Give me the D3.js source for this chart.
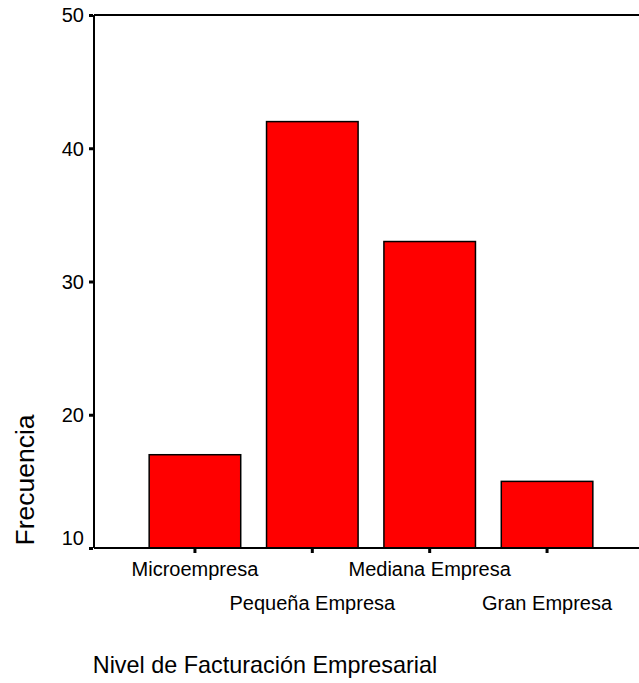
<!DOCTYPE html>
<html><head><meta charset="utf-8">
<script src="https://cdn.jsdelivr.net/npm/d3@7"></script>
<style>body{margin:0;background:#fff}svg{display:block}text{font-family:Arial,"Liberation Sans",sans-serif;fill:#000}</style>
</head><body>
<script>
const categories = ["Microempresa","Pequeña Empresa","Mediana Empresa","Gran Empresa"];
const values = [17, 42, 33, 15];
const yTicks = [10, 20, 30, 40, 50];
const yTitle = "Frecuencia";
const xTitle = "Nivel de Facturación Empresarial";

const W = 639, H = 683;
const plotL = 94, plotR = 648, plotT = 15, plotB = 548;
const svg = d3.select("body").append("svg").attr("width", W).attr("height", H);

const x = d3.scaleBand().domain(categories).range([plotL, plotR]).paddingInner(0.22).paddingOuter(0.47);
const y = d3.scaleLinear().domain([10, 50]).range([plotB, plotT]);

// bars
svg.append("g").selectAll("rect").data(categories).join("rect")
  .attr("x", d => x(d)).attr("width", x.bandwidth())
  .attr("y", (d,i) => y(values[i])).attr("height", (d,i) => y(10) - y(values[i]))
  .attr("fill", "#ff0000").attr("stroke", "#000").attr("stroke-width", 1.5);

// frame lines
svg.append("line").attr("x1", plotL).attr("x2", W + 10).attr("y1", plotT).attr("y2", plotT).attr("stroke", "#000").attr("stroke-width", 2);
svg.append("line").attr("x1", plotL).attr("x2", W + 10).attr("y1", plotB).attr("y2", plotB).attr("stroke", "#000").attr("stroke-width", 2);
svg.append("line").attr("x1", plotL).attr("x2", plotL).attr("y1", plotT).attr("y2", plotB).attr("stroke", "#000").attr("stroke-width", 2);

// y axis ticks via d3 axis
const yAxis = d3.axisLeft(y).tickValues(yTicks).tickSize(4).tickPadding(5).tickFormat(d3.format("d"));
const gy = svg.append("g").attr("transform", `translate(${plotL - 1},0)`).call(yAxis);
gy.select(".domain").remove();
gy.selectAll(".tick line").attr("stroke", "#000").attr("stroke-width", 3);
gy.selectAll(".tick text").style("font-size", "20px").attr("font-family", "Arial, 'Liberation Sans', sans-serif")
  .attr("dy", "0.34em")
  .attr("y", d => d === 10 ? -10 : 0);

// x axis ticks
const xAxis = d3.axisBottom(x).tickSize(4).tickFormat("");
const gx = svg.append("g").attr("transform", `translate(0,${plotB + 1})`).call(xAxis);
gx.select(".domain").remove();
gx.selectAll(".tick line").attr("stroke", "#000").attr("stroke-width", 3);

// staggered category labels
svg.append("g").selectAll("text").data(categories).join("text")
  .attr("x", d => x(d) + x.bandwidth()/2)
  .attr("y", (d,i) => i % 2 === 0 ? 576 : 610)
  .attr("text-anchor", "middle").style("font-size", "20px").text(d => d);

// axis titles
svg.append("text").attr("x", 265).attr("y", 673).attr("text-anchor", "middle").style("font-size", "23.4px").text(xTitle);
svg.append("text").attr("transform", "translate(34,480) rotate(-90)").attr("text-anchor", "middle").style("font-size", "26.5px").text(yTitle);
</script>
</body></html>
